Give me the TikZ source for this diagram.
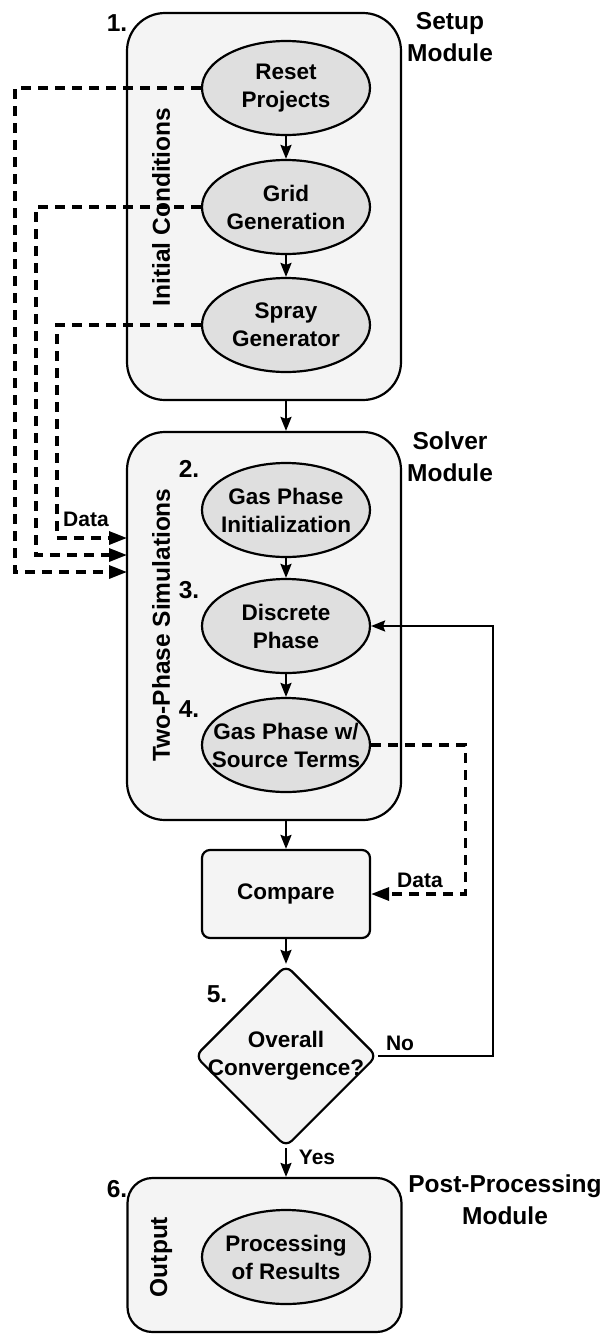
\documentclass[tikz,border=0pt]{standalone}
\usepackage{fontspec}
\setmainfont{Liberation Sans}
\usetikzlibrary{arrows.meta, shapes.geometric}
\definecolor{modulegray}{HTML}{F4F4F4}
\definecolor{stepgray}{HTML}{DFDFDF}

\begin{document}
\begin{tikzpicture}[x=1pt, y=-1pt,
        every node/.style={font=\bfseries\fontsize{22.5}{28}\selectfont, align=center},
        module/.style={rectangle, draw, line width=2.2pt, fill=modulegray, rounded corners=38pt, minimum width=274pt, inner sep=0pt},
        stepnode/.style={ellipse, draw, line width=2.2pt, fill=stepgray, minimum width=168pt, minimum height=94pt, inner sep=0pt},
        compbox/.style={rectangle, draw, line width=2.2pt, fill=modulegray, rounded corners=8pt, minimum width=168pt, minimum height=88pt},
        decision/.style={diamond, draw, line width=2.2pt, fill=modulegray, rounded corners=8pt, minimum width=182pt, minimum height=182pt, inner sep=0pt},
        biglabel/.style={font=\bfseries\fontsize{24.5}{32}\selectfont},
        smalllabel/.style={font=\bfseries\fontsize{21}{26}\selectfont},
        arrow/.style={-{Stealth[length=14pt, width=11pt, inset=2pt]}, line width=2.2pt},
        dataflow/.style={-{Triangle[length=18pt, width=13pt]}, dashed, dash pattern=on 10pt off 7pt, line width=3.2pt}
    ]
    \useasboundingbox (0,0) rectangle (604,1334);

    % Module frames
    \node[module, minimum height=387pt] (setup) at (264,206.5) {};
    \node[module, minimum height=388pt] (solver) at (264,626) {};
    \node[module, rounded corners=25pt, minimum height=154pt] (post) at (264.5,1255) {};

    % Steps
    \node[stepnode, label={center:Reset\\Projects}] (reset) at (286,88) {};
    \node[stepnode, label={center:Grid\\Generation}] (grid) at (286,207) {};
    \node[stepnode, label={center:Spray\\Generator}] (spray) at (286,325) {};
    \node[stepnode, label={center:Gas Phase\\Initialization}] (gasinit) at (286,510) {};
    \node[stepnode, label={center:Discrete\\Phase}] (discrete) at (286,626) {};
    \node[stepnode, label={center:Gas Phase w/\\Source Terms}] (gassrc) at (286,745) {};
    \node[compbox] (compare) at (286,894) {Compare};
    \node[decision, label={center:Overall\\Convergence?}] (conv) at (286,1056) {};
    \node[stepnode, label={center:Processing\\of Results}] (results) at (286,1257) {};

    % Labels
    \node[biglabel] (num1) at (117,23) {1.};
    \node[biglabel] (num2) at (189,469) {2.};
    \node[biglabel] (num3) at (189,590) {3.};
    \node[biglabel] (num4) at (189,709) {4.};
    \node[biglabel] (num5) at (217,994) {5.};
    \node[biglabel] (num6) at (117,1189) {6.};
    \node[biglabel] (setuplbl) at (450,37) {Setup\\Module};
    \node[biglabel] (solverlbl) at (450,457) {Solver\\Module};
    \node[biglabel] (postlbl) at (505,1200) {Post-Processing\\Module};
    \node[biglabel, rotate=90] (initlbl) at (161,207) {Initial Conditions};
    \node[biglabel, rotate=90] (twolbl) at (161,625) {Two-Phase Simulations};
    \node[biglabel, rotate=90] (outlbl) at (161,1257) {Output};
    \node[smalllabel] (datain) at (86,519) {Data};
    \node[smalllabel] (dataout) at (420,880) {Data};
    \node[smalllabel] (nolbl) at (400,1043) {No};
    \node[smalllabel] (yeslbl) at (317,1157) {Yes};

    % Inputs on the solver frame
    \coordinate (in1) at (127,538);
    \coordinate (in2) at (127,555);
    \coordinate (in3) at (127,572);

    % Connections
    \draw[arrow] (reset) -- (grid);
    \draw[arrow] (grid) -- (spray);
    \draw[arrow] (setup.south -| reset) -- (solver.north -| reset);
    \draw[arrow] (gasinit) -- (discrete);
    \draw[arrow] (discrete) -- (gassrc);
    \draw[arrow] (solver.south -| compare) -- (compare);
    \draw[arrow] (compare) -- (conv);
    \draw[arrow] (conv) -- (post.north -| conv);
    \draw[arrow] (conv.east) -- ++(115,0) |- (discrete.east);

    % Data transfer
    \draw[dataflow] (spray.west) -- ++(-144,0) |- (in1);
    \draw[dataflow] (grid.west) -- ++(-165,0) |- (in2);
    \draw[dataflow] (reset.west) -- ++(-186,0) |- (in3);
    \draw[dataflow] (gassrc.east) -- ++(94,0) |- (compare.east);

\end{tikzpicture}
\end{document}
